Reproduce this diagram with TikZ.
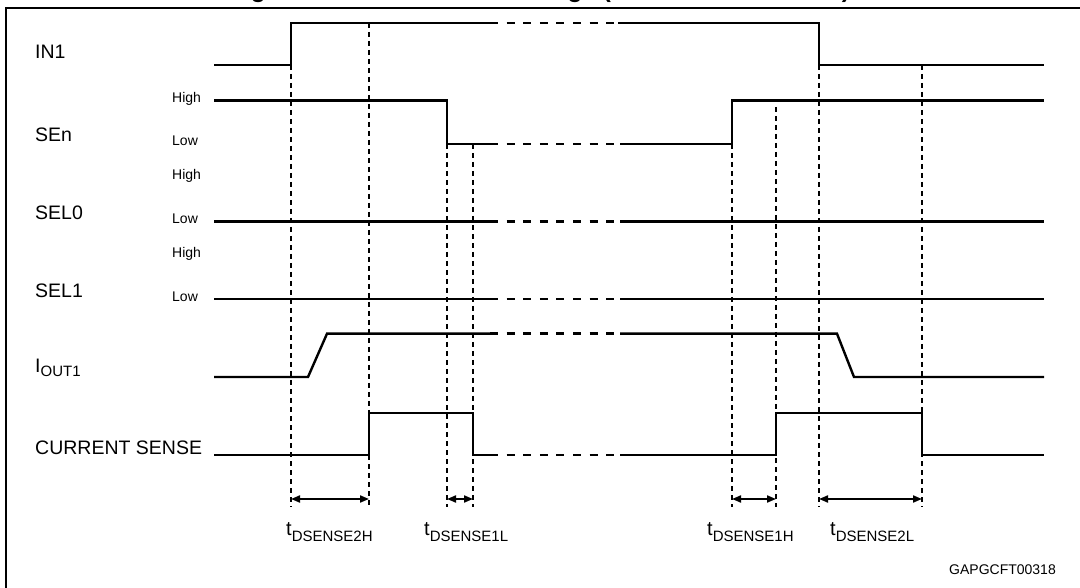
\documentclass[tikz,border=0pt]{standalone}
\usepackage{fontspec}
\setmainfont{Liberation Sans}
\usetikzlibrary{arrows.meta}
\begin{document}
\begin{tikzpicture}[x=1pt,y=-1pt,
  sig/.style={line width=2.4pt, line join=miter},
  gapdash/.style={line width=2.4pt, dash pattern=on 8pt off 8.6pt},
  vdash/.style={line width=2.3pt, dash pattern=on 5pt off 4pt},
  dimarrow/.style={line width=1.9pt, {Triangle[length=9pt,width=7pt]}-{Triangle[length=9pt,width=7pt]}},
  lbl/.style={anchor=base west, inner sep=0pt, font=\fontsize{19.5}{20}\selectfont},
  lvl/.style={anchor=base west, inner sep=0pt, font=\fontsize{14}{14}\selectfont},
  tlbl/.style={anchor=base west, inner sep=0pt, font=\fontsize{20}{20}\selectfont},
]
\useasboundingbox (0,0) rectangle (1080,588);
\begin{scope}
\clip (0,0) rectangle (1080,588);
\node[anchor=base west, inner sep=0pt, font=\bfseries\fontsize{24.3}{25}\selectfont] (title) at (229,-2) {Figure 9. Current sense timings (current sense mode)};
\draw[line width=2.4pt] (1082,7.8) -- (6,7.8) -- (6,592);
\end{scope}

% signal labels
\node[lbl] (in1) at (35,59) {IN1};
\node[lbl] (sen) at (35,141.5) {SEn};
\node[lbl] (sel0) at (35,220) {SEL0};
\node[lbl] (sel1) at (35,298) {SEL1};
\node[lbl] (iout) at (35,372) {I\raisebox{-4pt}{\fontsize{15}{15}\selectfont OUT1}};
\node[lbl] (cs) at (35,454) {CURRENT SENSE};

\node[lvl] (h1) at (172,103) {High};
\node[lvl] (l1) at (172,146) {Low};
\node[lvl] (h2) at (172,180) {High};
\node[lvl] (l2) at (172,224) {Low};
\node[lvl] (h3) at (172,258) {High};
\node[lvl] (l3) at (172,302) {Low};

% vertical dashed markers
\draw[vdash] (291,65) -- (291,507);
\draw[vdash] (369,23) -- (369,507);
\draw[vdash] (447,144) -- (447,507);
\draw[vdash] (473,144) -- (473,507);
\draw[vdash] (732,144) -- (732,507);
\draw[vdash] (776,107) -- (776,507);
\draw[vdash] (819,65) -- (819,507);
\draw[vdash] (922,65) -- (922,507);

% IN1
\draw[sig] (214,65) -- (291,65) -- (291,23) -- (490,23);
\draw[gapdash] (490,23) -- (618,23);
\draw[sig] (618,23) -- (819,23) -- (819,65) -- (1044,65);
% SEn
\draw[sig] (214,100.7) -- (447,100.7) -- (447,144) -- (490,144);
\draw[gapdash] (490,144) -- (620,144);
\draw[sig] (620,144) -- (732,144) -- (732,100.7) -- (1044,100.7);
% SEL0
\draw[sig] (214,221.7) -- (490,221.7);
\draw[gapdash] (490,221.7) -- (620,221.7);
\draw[sig] (620,221.7) -- (1044,221.7);
% SEL1
\draw[sig] (214,299) -- (490,299);
\draw[gapdash] (490,299) -- (620,299);
\draw[sig] (620,299) -- (1044,299);
% IOUT1
\draw[sig] (214,377) -- (308,377) -- (327,333.7) -- (490,333.7);
\draw[gapdash] (490,333.7) -- (620,333.7);
\draw[sig] (620,333.7) -- (837,333.7) -- (854,377) -- (1044,377);
% CURRENT SENSE
\draw[sig] (214,455) -- (369,455) -- (369,412.7) -- (473,412.7) -- (473,455) -- (490,455);
\draw[gapdash] (490,455) -- (620,455);
\draw[sig] (620,455) -- (776,455) -- (776,412.7) -- (922,412.7) -- (922,455) -- (1044,455);

% timing arrows
\coordinate (a1) at (291,499);
\coordinate (a2) at (369,499);
\coordinate (b1) at (447,499);
\coordinate (b2) at (473,499);
\coordinate (c1) at (732,499);
\coordinate (c2) at (776,499);
\coordinate (d1) at (819,499);
\coordinate (d2) at (922,499);
\draw[dimarrow] (a1) -- (a2);
\draw[dimarrow] (b1) -- (b2);
\draw[dimarrow] (c1) -- (c2);
\draw[dimarrow] (d1) -- (d2);

\node[tlbl] (t2h) at (286,535) {t\raisebox{-6pt}{\fontsize{15}{15}\selectfont DSENSE2H}};
\node[tlbl] (t1l) at (424,535) {t\raisebox{-6pt}{\fontsize{15}{15}\selectfont DSENSE1L}};
\node[tlbl] (t1h) at (707,535) {t\raisebox{-6pt}{\fontsize{15}{15}\selectfont DSENSE1H}};
\node[tlbl] (t2l) at (830,535) {t\raisebox{-6pt}{\fontsize{15}{15}\selectfont DSENSE2L}};

\node[lvl] (code) at (949,574) {GAPGCFT00318};
\end{tikzpicture}
\end{document}
